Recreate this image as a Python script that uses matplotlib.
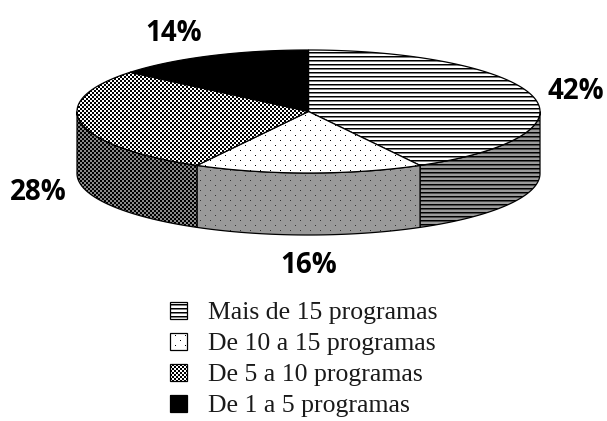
import numpy as np
import matplotlib.pyplot as plt
from matplotlib.patches import Polygon

# =============================================================================
# Data
# =============================================================================
labels = ['Mais de 15 programas', 'De 10 a 15 programas',
          'De 5 a 10 programas', 'De 1 a 5 programas']
values = [42, 16, 28, 14]
pct_text = ['42%', '16%', '28%', '14%']

# =============================================================================
# Layout (pixel units, y down)
# =============================================================================
W, H = 607, 421
cx, cy = 308.5, 111.5
rx, ry = 231.5, 61.5
depth = 62
label_dx = [0, 0, 0, -18]

fig = plt.figure(figsize=(W / 100, H / 100), dpi=100)
ax = fig.add_axes([0, 0, 1, 1])
ax.axis('off')

# pixel textures used as fill patterns
yy, xx = np.mgrid[0:H, 0:W]


def rgb(c):
    return np.array(plt.matplotlib.colors.to_rgb(c))


def texture(kind, bg, fg='black'):
    img = np.ones((H, W, 3)) * rgb(bg)
    if kind == 'stripes':
        img[yy % 4 == 0] = rgb(fg)
        img[yy % 4 == 1] = (rgb(fg) + rgb(bg)) / 2
    elif kind == 'dots':
        m = ((xx % 10 == 0) & (yy % 10 == 0)) | ((xx % 10 == 5) & (yy % 10 == 5))
        img[m] = rgb(fg)
    elif kind == 'checker':
        img[(xx // 2 + yy // 2) % 2 == 0] = rgb(fg)
    elif kind == 'solid':
        img[:] = rgb(fg)
    return img


kinds = ['stripes', 'dots', 'checker', 'solid']
top_bg = ['white', 'white', 'white', 'black']
side_bg = ['#9a9a9a', '#9a9a9a', '#8a8a8a', 'black']
side_fg = ['black', '#333333', 'black', 'black']

z = [1]


def fill(pts, kind, bg, fg):
    poly = Polygon(pts, closed=True, facecolor='none', edgecolor='black',
                   lw=0.9, zorder=z[0] + 1)
    ax.add_patch(poly)
    im = ax.imshow(texture(kind, bg, fg), extent=(0, W, H, 0),
                   interpolation='nearest', zorder=z[0])
    im.set_clip_path(poly)
    z[0] += 2


def ell(t, dy=0):
    t = np.radians(t)
    return np.column_stack([cx + rx * np.cos(t), cy - ry * np.sin(t) + dy])


# slice angles, clockwise from 12 o'clock
frac = np.array(values) / sum(values) * 360
starts = 90 - np.concatenate([[0], np.cumsum(frac)[:-1]])
ends = starts - frac

# sides (front half only)
for i in range(len(values)):
    a1 = min(starts[i], 0)
    a2 = max(ends[i], -180)
    if a1 <= a2:
        continue
    t = np.linspace(a1, a2, 100)
    pts = np.vstack([ell(t), ell(t[::-1], depth)])
    fill(pts, kinds[i], side_bg[i], side_fg[i])

# tops
for i in range(len(values)):
    t = np.linspace(starts[i], ends[i], 150)
    pts = np.vstack([[cx, cy], ell(t)])
    fill(pts, kinds[i], top_bg[i], 'black')

# percentage labels
for i in range(len(values)):
    mid = np.radians((starts[i] + ends[i]) / 2)
    x = cx + rx * 1.19 * np.cos(mid) + label_dx[i]
    y = cy - ry * 1.45 * np.sin(mid)
    if np.sin(mid) < 0:
        y += depth
    ax.text(x, y + 10, pct_text[i], ha='center', va='baseline', fontsize=20,
            fontweight='bold', family='Open Sans', zorder=50)

# legend
row0, row_step = 310, 31.3
for i in range(len(values)):
    yc = row0 + i * row_step
    x0, s = 170, 17
    pts = [[x0, yc - s / 2], [x0 + s, yc - s / 2],
           [x0 + s, yc + s / 2], [x0, yc + s / 2]]
    fill(pts, kinds[i], top_bg[i], 'black')
    ax.text(208, yc + 8.5, labels[i], ha='left', va='baseline',
            fontsize=18.5, family='Liberation Serif', color='#1a1a1a', zorder=50)

ax.set_xlim(0, W)
ax.set_ylim(H, 0)
plt.savefig('out.png', dpi=100)
